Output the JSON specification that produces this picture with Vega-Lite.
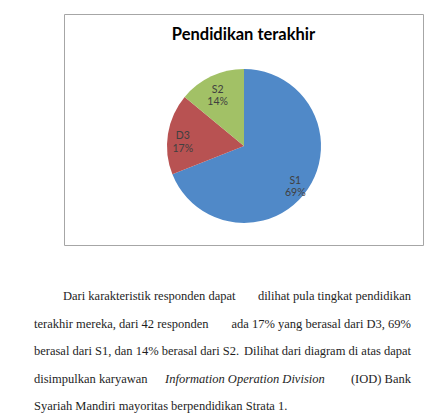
{
  "$schema": "https://vega.github.io/schema/vega-lite/v6.json",
  "autosize": {"type": "pad"},
  "padding": {"left": 34, "top": 13, "right": 0, "bottom": 0},
  "background": "white",
  "bounds": "flush",
  "spacing": 51,
  "config": {"view": {"stroke": null}},
  "vconcat": [
    {
      "width": 359,
      "height": 231,
      "view": {"stroke": "#a6a6a6", "strokeWidth": 1},
      "data": {"values": [
        {"jenjang": "S1", "persen": 69, "urut": 1, "label": "S1\n69%"},
        {"jenjang": "D3", "persen": 17, "urut": 2, "label": "D3\n17%"},
        {"jenjang": "S2", "persen": 14, "urut": 3, "label": "S2\n14%"}
      ]},
      "layer": [
        {
          "mark": {"type": "arc", "outerRadius": 77, "x": 180, "y": 132},
          "encoding": {
            "theta": {"field": "persen", "type": "quantitative", "stack": true},
            "order": {"field": "urut", "type": "quantitative"},
            "color": {"field": "jenjang", "type": "nominal", "scale": {"domain": ["S1", "D3", "S2"], "range": ["#5089c8", "#b85252", "#a2c166"]}, "legend": null}
          }
        },
        {
          "mark": {"type": "text", "radius": 62, "x": 180, "y": 132, "lineBreak": "\n", "font": "Lato", "fontSize": 10.5, "lineHeight": 12.5, "color": "#404040", "baseline": "middle", "align": "center"},
          "encoding": {
            "theta": {"field": "persen", "type": "quantitative", "stack": true},
            "order": {"field": "urut", "type": "quantitative"},
            "text": {"field": "label", "type": "nominal"}
          }
        },
        {
          "data": {"values": [{"judul": "Pendidikan terakhir"}]},
          "mark": {"type": "text", "x": 179.5, "y": 25.5, "baseline": "alphabetic", "align": "center", "font": "Lato", "fontWeight": "bold", "fontSize": 16.5, "color": "#000000"},
          "encoding": {"text": {"field": "judul", "type": "nominal"}}
        }
      ]
    },
    {
      "width": 347,
      "height": 110,
      "view": {"stroke": null},
      "data": {"values": [
        {"baris": 1, "sisi": "L1", "teks": "Dari karakteristik responden dapat"},
        {"baris": 1, "sisi": "R", "teks": "dilihat pula tingkat pendidikan"},
        {"baris": 2, "sisi": "L", "teks": "terakhir mereka, dari 42 responden"},
        {"baris": 2, "sisi": "R", "teks": "ada 17% yang berasal dari D3, 69%"},
        {"baris": 3, "sisi": "L", "teks": "berasal dari S1, dan 14% berasal dari S2."},
        {"baris": 3, "sisi": "R", "teks": "Dilihat dari diagram di atas dapat"},
        {"baris": 4, "sisi": "L", "teks": "disimpulkan karyawan"},
        {"baris": 4, "sisi": "I", "teks": "Information Operation Division"},
        {"baris": 4, "sisi": "R", "teks": "(IOD) Bank"},
        {"baris": 5, "sisi": "L", "teks": "Syariah Mandiri mayoritas berpendidikan Strata 1."}
      ]},
      "encoding": {
        "y": {"field": "baris", "type": "ordinal", "scale": {"type": "point", "padding": 0}, "axis": null},
        "text": {"field": "teks", "type": "nominal"}
      },
      "layer": [
        {
          "transform": [{"filter": "datum.sisi == 'L1'"}],
          "mark": {"type": "text", "x": -1, "align": "left", "baseline": "middle", "font": "Liberation Serif", "fontSize": 12.5, "color": "#1e1e1e"}
        },
        {
          "transform": [{"filter": "datum.sisi == 'L'"}],
          "mark": {"type": "text", "x": -30, "align": "left", "baseline": "middle", "font": "Liberation Serif", "fontSize": 12.5, "color": "#1e1e1e"}
        },
        {
          "transform": [{"filter": "datum.sisi == 'R'"}],
          "mark": {"type": "text", "x": 347, "align": "right", "baseline": "middle", "font": "Liberation Serif", "fontSize": 12.5, "color": "#1e1e1e"}
        },
        {
          "transform": [{"filter": "datum.sisi == 'I'"}],
          "mark": {"type": "text", "x": 101, "align": "left", "baseline": "middle", "font": "Liberation Serif", "fontStyle": "italic", "fontSize": 12.5, "color": "#1e1e1e"}
        }
      ]
    }
  ]
}
